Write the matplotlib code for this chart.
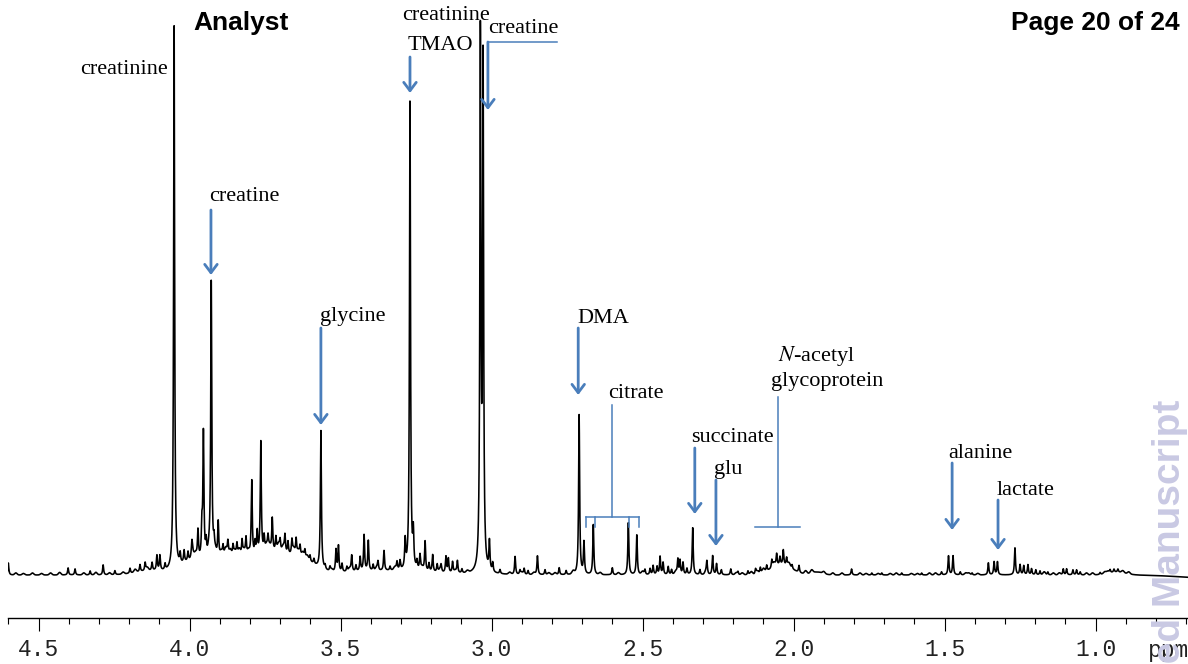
import matplotlib.pyplot as plt
import numpy as np

# sharp resonances: position (ppm) and height above baseline
peak_ppm = [
    4.600, 4.402, 4.379, 4.329, 4.286, 4.247, 4.197, 4.164, 4.147, 4.124,
    4.108, 4.098, 4.081, 4.051,
    4.031, 4.018, 4.005, 3.992, 3.972, 3.959, 3.954, 3.945, 3.928, 3.919,
    3.905, 3.889, 3.873, 3.856, 3.843, 3.826, 3.813, 3.794, 3.783, 3.776,
    3.764, 3.753, 3.740, 3.726, 3.714, 3.700, 3.684, 3.674, 3.661, 3.647,
    3.634, 3.618, 3.601, 3.588, 3.565, 3.551,
    3.535, 3.515, 3.507, 3.495, 3.479, 3.463, 3.449, 3.435, 3.422, 3.408,
    3.392, 3.376, 3.356, 3.336, 3.313, 3.303, 3.286, 3.270, 3.259, 3.247,
    3.237, 3.220, 3.207, 3.195, 3.180, 3.167, 3.151, 3.143, 3.129, 3.113,
    3.098, 3.037, 3.028, 3.007, 2.996, 2.972, 2.922, 2.906, 2.892, 2.879,
    2.848, 2.823, 2.776, 2.753, 2.710, 2.694, 2.663, 2.600, 2.547, 2.519,
    2.492, 2.475, 2.465, 2.452, 2.442, 2.432, 2.415, 2.404, 2.383, 2.376,
    2.366, 2.353, 2.334, 2.310, 2.287, 2.268, 2.255, 2.239, 2.208, 2.184,
    2.151, 2.126, 2.110, 2.089, 2.072, 2.056, 2.045, 2.034, 2.023, 2.005,
    1.982, 1.808, 1.741, 1.708, 1.642, 1.576, 1.510, 1.487, 1.472, 1.448,
    1.409, 1.355, 1.336, 1.325, 1.267, 1.250, 1.238, 1.224, 1.212, 1.198,
    1.184, 1.158, 1.107, 1.096, 1.075, 1.063, 1.051, 0.985, 0.952, 0.939,
    0.926,
]
peak_height = [
    12, 7, 6, 4, 10, 4, 5, 7, 8, 8,
    15, 15, 6, 544,
    10, 12, 9, 14, 28, 30, 125, 15, 278, 12,
    36, 10, 14, 10, 12, 15, 18, 76, 12, 22,
    112, 15, 12, 33, 14, 10, 17, 12, 14, 16,
    10, 8, 6, 5, 138, 4,
    4, 22, 26, 8, 5, 16, 6, 14, 36, 30,
    6, 8, 20, 4, 8, 9, 28, 470, 34, 8,
    15, 30, 8, 17, 8, 6, 16, 14, 11, 12,
    4, 530, 505, 29, 9, 4, 18, 4, 6, 4,
    19, 5, 7, 4, 160, 32, 50, 7, 52, 40,
    5, 6, 9, 8, 18, 12, 8, 5, 15, 14,
    12, 6, 47, 5, 12, 19, 11, 5, 6, 3,
    4, 5, 6, 6, 8, 12, 8, 15, 8, 4,
    7, 6, 2, 2, 2, 2, 3, 19, 19, 3,
    2, 12, 13, 13, 27, 10, 9, 10, 6, 5,
    4, 3, 6, 6, 5, 5, 3, 2, 3, 3,
    3,
]

# low, unresolved wiggles along the baseline
ripple_ppm = [
    4.575, 4.55, 4.52, 4.49, 4.46, 4.43, 4.35, 4.31, 4.265, 4.22, 4.18, 4.14,
    3.99, 3.98, 3.935, 3.915, 3.895, 3.88, 3.865, 3.85, 3.835, 3.82, 3.805,
    3.745, 3.735, 3.705, 3.69, 3.655, 3.64, 3.625, 3.61,
    3.53, 3.47, 3.38, 3.32, 3.23, 3.17, 3.12, 3.08,
    2.94, 2.90, 2.86, 2.81, 2.79, 2.73, 2.64, 2.58, 2.50, 2.39, 2.29,
    2.19, 2.17, 2.14, 2.12, 2.10, 2.065, 2.015, 1.96, 1.94, 1.90, 1.87,
    1.84, 1.78, 1.76, 1.72, 1.68, 1.66, 1.61, 1.59, 1.55, 1.53, 1.43,
    1.42, 1.39, 1.17, 1.14, 1.12, 1.03, 1.01, 0.97, 0.96, 0.91, 0.89,
]
ripple_height = [
    2, 1.5, 2, 1.5, 2, 2.5, 2, 2.5, 2, 2, 3, 3,
    6, 5, 7, 6, 5, 8, 6, 5, 7, 6, 5,
    6, 5, 7, 6, 6, 5, 5, 4,
    2, 3, 3, 3, 3, 3, 2, 2,
    2, 2, 2, 2, 2, 3, 2, 2, 3, 3, 3,
    2, 2, 3, 3, 4, 4, 4, 3, 3, 2, 2,
    2, 2, 1.5, 1.5, 1.5, 2, 1.5, 1.5, 2, 2, 2,
    2, 1.5, 3, 2, 2, 2, 2, 2, 2, 2, 2,
]

# broad background features: centre (ppm), height, gaussian width (ppm)
hump_ppm = [4.13, 3.99, 3.87, 3.72, 3.62, 3.35, 2.04, 1.923, 0.93, 0.62]
hump_height = [4, 12, 17, 22, 10, 4, 10, 3, 3, -3]
hump_sigma = [0.05, 0.04, 0.06, 0.06, 0.04, 0.15, 0.035, 0.02, 0.03, 0.1]

major_ticks = [4.5, 4.0, 3.5, 3.0, 2.5, 2.0, 1.5, 1.0]

HWHM = 0.002
RIPPLE_SIGMA = 0.004
BLUE = "#4a7ebb"
SERIF = "Liberation Serif"

ppm = np.linspace(4.62, 0.68, 12000)
spec = np.zeros_like(ppm)
for c, h in zip(peak_ppm, peak_height):
    spec += h / (1 + ((ppm - c) / HWHM) ** 2)
for c, h in zip(ripple_ppm, ripple_height):
    spec += h * np.exp(-((ppm - c) ** 2) / (2 * RIPPLE_SIGMA**2))
for c, h, s in zip(hump_ppm, hump_height, hump_sigma):
    spec += h * np.exp(-((ppm - c) ** 2) / (2 * s**2))

W, H = 1188, 664
fig = plt.figure(figsize=(W / 100, H / 100), dpi=100)
ax = fig.add_axes([8 / W, 46 / H, 1 - 8 / W, 618 / H])
ax.plot(ppm, spec, color="black", lw=1.15)
ax.set_xlim(4.601, 0.694)
ax.set_ylim(-43, 575)

for s in ["left", "right", "top"]:
    ax.spines[s].set_visible(False)
ax.spines["bottom"].set_linewidth(1.0)
ax.set_yticks([])
ax.set_xticks(major_ticks)
ax.set_xticks(np.arange(4.6, 0.65, -0.1), minor=True)
ax.set_xticklabels([f"{t:.1f}" for t in major_ticks], family="Liberation Mono",
                   fontsize=16.5, color="#222222")
ax.tick_params(axis="x", which="major", direction="out", length=9.5, width=0.8, pad=5)
ax.tick_params(axis="x", which="minor", direction="out", length=4.3, width=0.8)
fig.text(1148 / W, 1 - 657 / H, "ppm", family="Liberation Mono", fontsize=16.5,
         color="#222222", ha="left", va="baseline")

# metabolite labels
labels = [
    ("creatinine", 4.217, 501),
    ("creatine", 3.818, 374),
    ("glycine", 3.460, 254),
    ("creatinine", 3.152, 555),
    ("TMAO", 3.169, 525),
    ("creatine", 2.894, 542),
    ("DMA", 2.631, 252),
    ("citrate", 2.523, 177),
    ("succinate", 2.202, 133),
    ("glu", 2.217, 101),
    ("glycoprotein", 1.889, 189),
    ("alanine", 1.381, 117),
    ("lactate", 1.232, 80),
]
for txt, x, y in labels:
    ax.text(x, y, txt, family=SERIF, fontsize=16, ha="center", va="baseline")
ax.text(1.924, 214, r"$\it{N}$" + "-acetyl", family=SERIF, fontsize=16,
        ha="center", va="baseline", math_fontfamily="stix")

arrows = [
    (3.929, 365, 300),
    (3.565, 247, 150),
    (3.270, 518, 482),
    (3.012, 533, 465),
    (2.713, 247, 180),
    (2.327, 127, 61),
    (2.257, 95, 29),
    (1.475, 112, 45),
    (1.323, 75, 25),
]
for x, y0, y1 in arrows:
    ax.annotate("", xy=(x, y1), xytext=(x, y0),
                arrowprops=dict(arrowstyle="->,head_length=0.6,head_width=0.45",
                                color=BLUE, lw=2.0, mutation_scale=10,
                                shrinkA=0, shrinkB=0))
ax.plot([3.012, 2.783], [533, 533], color=BLUE, lw=1.1)

# citrate bracket
ax.plot([2.601, 2.601], [170, 58], color=BLUE, lw=1.1)
ax.plot([2.687, 2.512], [58, 58], color=BLUE, lw=1.1)
for x in [2.687, 2.657, 2.545, 2.512]:
    ax.plot([x, x], [58, 48], color=BLUE, lw=1.1)

# N-acetyl glycoprotein marker
ax.plot([2.051, 2.051], [178, 48], color=BLUE, lw=1.1)
ax.plot([2.127, 1.978], [48, 48], color=BLUE, lw=1.1)

fig.text(193 / W, 1 - 30 / H, "Analyst", family="Liberation Sans", weight="bold",
         fontsize=19, ha="left", va="baseline")
fig.text(1180 / W, 1 - 30 / H, "Page 20 of 24", family="Liberation Sans",
         weight="bold", fontsize=19, ha="right", va="baseline")
fig.text(1180 / W, 1 - 400 / H, "Accepted Manuscript", family="Liberation Sans",
         weight="bold", fontsize=28, color="#c9c9e3", rotation=90,
         rotation_mode="anchor", ha="right", va="baseline")

fig.savefig("out.png", dpi=100)
